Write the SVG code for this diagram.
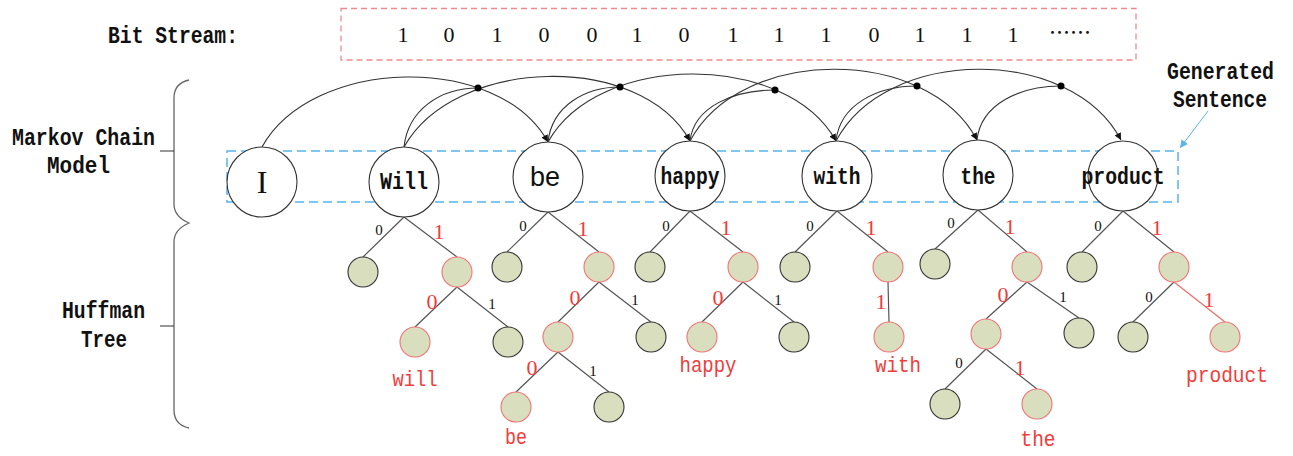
<svg xmlns="http://www.w3.org/2000/svg" width="1293" height="456" viewBox="0 0 1293 456">
<style>
.mono{font-family:"Liberation Mono","DejaVu Sans Mono",monospace;fill:#111;font-size:23px;font-weight:bold}
.lbl{font-family:"Liberation Mono","DejaVu Sans Mono",monospace;font-size:23px;font-weight:bold;fill:#111;text-anchor:middle}
.word{font-family:"Liberation Mono","DejaVu Sans Mono",monospace;font-size:22px;fill:#f03c3c;text-anchor:middle}
.bit{font-family:"Liberation Serif","Times New Roman",serif;font-size:22px;fill:#111;text-anchor:middle}
.b0{font-family:"Liberation Serif","Times New Roman",serif;font-size:15px;fill:#111;text-anchor:middle}
.r1{font-family:"Liberation Serif","Times New Roman",serif;font-size:22px;fill:#f03c3c;text-anchor:middle}
.mk{fill:#fff;stroke:#333;stroke-width:1.1}
.hn{fill:#d9dfbe;stroke:#333;stroke-width:1.1}
.hr{fill:#d9dfbe;stroke:#ef7474;stroke-width:1.1}
.e{stroke:#555;stroke-width:1.2;fill:none}
.er{stroke:#ef6a6a;stroke-width:1.2;fill:none}
.arc{stroke:#333;stroke-width:1.1;fill:none}
.dot{fill:#000}
</style>
<defs>
<marker id="ah" viewBox="0 0 10 10" refX="10" refY="5" markerWidth="7" markerHeight="7" markerUnits="userSpaceOnUse" orient="auto">
<path d="M0,0 L10,5 L0,10 Z" fill="#111"/>
</marker>
<marker id="ahb" viewBox="0 0 10 10" refX="10" refY="5" markerWidth="8" markerHeight="8" markerUnits="userSpaceOnUse" orient="auto">
<path d="M0,0 L10,5 L0,10 Z" fill="#5db5ea"/>
</marker>
</defs>
<rect width="1293" height="456" fill="#fff"/>

<g id="bitstream">
<text class="mono" x="108" y="43" textLength="130" lengthAdjust="spacingAndGlyphs">Bit Stream:</text>
<rect x="341" y="8.5" width="795" height="51.5" fill="none" stroke="#f08a8a" stroke-width="1.3" stroke-dasharray="6 4"/>
<text class="bit" y="42"><tspan x="403">1</tspan><tspan x="449">0</tspan><tspan x="497">1</tspan><tspan x="544">0</tspan><tspan x="592">0</tspan><tspan x="637">1</tspan><tspan x="684">0</tspan><tspan x="733">1</tspan><tspan x="779">1</tspan><tspan x="826">1</tspan><tspan x="874">0</tspan><tspan x="920">1</tspan><tspan x="967">1</tspan><tspan x="1013">1</tspan></text>
<text x="1049" y="40" font-family="'Noto Sans CJK SC',sans-serif" font-size="21" fill="#111">……</text>
</g>

<g id="side-labels">
<text class="mono" x="12" y="145" textLength="143" lengthAdjust="spacingAndGlyphs">Markov Chain</text>
<text class="mono" x="47" y="173" textLength="63" lengthAdjust="spacingAndGlyphs">Model</text>
<text class="mono" x="62" y="318" textLength="83" lengthAdjust="spacingAndGlyphs">Huffman</text>
<text class="mono" x="81" y="347" textLength="46" lengthAdjust="spacingAndGlyphs">Tree</text>
<path d="M189,80 C180,82 174,88 174,98 L174,204 C174,214 182,220 189,223 C182,226 174,232 174,242 L174,410 C174,420 180,426 189,428" fill="none" stroke="#666" stroke-width="1.3"/>
<path d="M160,151 L174,151 M160,326 L174,326" stroke="#333" stroke-width="1.2"/>
</g>

<g id="sentence-box">
<rect x="227" y="151" width="951" height="51" fill="none" stroke="#55b4ee" stroke-width="1.5" stroke-dasharray="9 5"/>
<text class="mono" x="1167" y="79" textLength="107" lengthAdjust="spacingAndGlyphs">Generated</text>
<text class="mono" x="1173" y="107" textLength="94" lengthAdjust="spacingAndGlyphs">Sentence</text>
<path d="M1208,111 L1180,148" stroke="#5db5ea" stroke-width="1" marker-end="url(#ahb)"/>
</g>

<g id="connectors">
<path class="arc" d="M262,147 C312,57 498,52 548,142" marker-end="url(#ah)"/>
<path class="arc" d="M404,147 C408,110 440,88 478,88"/>
<path class="arc" d="M404,147 C454,57 640,51 690,141" marker-end="url(#ah)"/>
<path class="arc" d="M548,142 C552,106 585,87 620,87"/>
<path class="arc" d="M548,142 C598,52 786,51 836,141" marker-end="url(#ah)"/>
<path class="arc" d="M690,141 C694,106 735,90 775,90"/>
<path class="arc" d="M690,141 C740,46 927,45 977,140" marker-end="url(#ah)"/>
<path class="arc" d="M836,141 C840,104 878,86 917,86"/>
<path class="arc" d="M836,141 C886,46 1071,45 1121,140" marker-end="url(#ah)"/>
<path class="arc" d="M977,140 C981,104 1020,86 1061,86"/>
<circle class="dot" cx="478" cy="88" r="3.5"/>
<circle class="dot" cx="620" cy="87" r="3.5"/>
<circle class="dot" cx="775" cy="90" r="3.5"/>
<circle class="dot" cx="917" cy="86" r="3.5"/>
<circle class="dot" cx="1061" cy="86" r="3.5"/>
<path class="e" d="M404,217 L363,257 M404,217 L457,257 M457,287 L415,327 M457,287 L508,327"/>
<path class="e" d="M548,212 L507,252 M548,212 L599,252 M599,282 L558,322 M599,282 L651,322 M558,352 L516,392 M558,352 L609,392"/>
<path class="e" d="M690,211 L650,252 M690,211 L743,252 M743,282 L702,322 M743,282 L794,322"/>
<path class="e" d="M837,211 L795,252 M837,211 L888,252 M888,282 L889,322"/>
<path class="e" d="M978,210 L935,249 M978,210 L1027,252 M1027,282 L986,319 M1027,282 L1079,318 M986,349 L945,389 M986,349 L1037,389"/>
<path class="e" d="M1123,211 L1082,252 M1123,211 L1174,252 M1174,282 L1133,322"/>
<path class="er" d="M1174,282 L1225,322"/>
</g>

<g id="node-I"><circle class="mk" cx="262" cy="182" r="35"/><text x="262" y="193" font-family="'Liberation Serif',serif" font-size="32" fill="#111" text-anchor="middle">I</text></g>
<g id="node-Will"><circle class="mk" cx="404" cy="182" r="35"/><text class="lbl" x="404" y="189" textLength="48" lengthAdjust="spacingAndGlyphs">Will</text></g>
<g id="node-be"><circle class="mk" cx="548" cy="177" r="35"/><text x="545" y="186" font-family="'Liberation Sans',sans-serif" font-size="27" fill="#111" text-anchor="middle">be</text></g>
<g id="node-happy"><circle class="mk" cx="690" cy="176" r="35"/><text class="lbl" x="690" y="184" textLength="59" lengthAdjust="spacingAndGlyphs">happy</text></g>
<g id="node-with"><circle class="mk" cx="837" cy="176" r="35"/><text class="lbl" x="837" y="184" textLength="47" lengthAdjust="spacingAndGlyphs">with</text></g>
<g id="node-the"><circle class="mk" cx="978" cy="175" r="35"/><text class="lbl" x="978" y="184" textLength="35" lengthAdjust="spacingAndGlyphs">the</text></g>
<g id="node-product"><circle class="mk" cx="1123" cy="176" r="35"/><text class="lbl" x="1123" y="184" textLength="83" lengthAdjust="spacingAndGlyphs">product</text></g>

<g id="tree-will">
<circle class="hn" cx="363" cy="272" r="15"/><circle class="hr" cx="457" cy="272" r="15"/>
<circle class="hr" cx="415" cy="342" r="15"/><circle class="hn" cx="508" cy="342" r="15"/>
<text class="b0" x="379" y="235">0</text><text class="r1" x="439" y="239">1</text>
<text class="r1" x="432" y="309">0</text><text class="b0" x="492" y="309">1</text>
<text class="word" x="415" y="386" textLength="45" lengthAdjust="spacingAndGlyphs">will</text>
</g>
<g id="tree-be">
<circle class="hn" cx="507" cy="267" r="15"/><circle class="hr" cx="599" cy="267" r="15"/>
<circle class="hr" cx="558" cy="337" r="15"/><circle class="hn" cx="651" cy="337" r="15"/>
<circle class="hr" cx="516" cy="407" r="15"/><circle class="hn" cx="609" cy="407" r="15"/>
<text class="b0" x="523" y="231">0</text><text class="r1" x="583" y="236">1</text>
<text class="r1" x="575" y="305">0</text><text class="b0" x="635" y="305">1</text>
<text class="r1" x="532" y="375">0</text><text class="b0" x="593" y="376">1</text>
<text class="word" x="516" y="444" textLength="22" lengthAdjust="spacingAndGlyphs">be</text>
</g>
<g id="tree-happy">
<circle class="hn" cx="650" cy="267" r="15"/><circle class="hr" cx="743" cy="267" r="15"/>
<circle class="hr" cx="702" cy="337" r="15"/><circle class="hn" cx="794" cy="337" r="15"/>
<text class="b0" x="666" y="231">0</text><text class="r1" x="726" y="235">1</text>
<text class="r1" x="718" y="305">0</text><text class="b0" x="778" y="305">1</text>
<text class="word" x="708" y="372" textLength="57" lengthAdjust="spacingAndGlyphs">happy</text>
</g>
<g id="tree-with">
<circle class="hn" cx="795" cy="267" r="15"/><circle class="hr" cx="888" cy="267" r="15"/>
<circle class="hr" cx="889" cy="337" r="15"/>
<text class="b0" x="810" y="231">0</text><text class="r1" x="871" y="235">1</text>
<text class="r1" x="881" y="309">1</text>
<text class="word" x="898" y="372" textLength="46" lengthAdjust="spacingAndGlyphs">with</text>
</g>
<g id="tree-the">
<circle class="hn" cx="935" cy="264" r="15"/><circle class="hr" cx="1027" cy="267" r="15"/>
<circle class="hr" cx="986" cy="334" r="15"/><circle class="hn" cx="1079" cy="333" r="15"/>
<circle class="hn" cx="945" cy="404" r="15"/><circle class="hr" cx="1037" cy="404" r="15"/>
<text class="b0" x="951" y="228">0</text><text class="r1" x="1010" y="234">1</text>
<text class="r1" x="1003" y="302">0</text><text class="b0" x="1063" y="302">1</text>
<text class="b0" x="959" y="368">0</text><text class="r1" x="1020" y="375">1</text>
<text class="word" x="1038" y="446" textLength="35" lengthAdjust="spacingAndGlyphs">the</text>
</g>
<g id="tree-product">
<circle class="hn" cx="1082" cy="267" r="15"/><circle class="hr" cx="1174" cy="267" r="15"/>
<circle class="hn" cx="1133" cy="337" r="15"/><circle class="hr" cx="1225" cy="337" r="15"/>
<text class="b0" x="1098" y="231">0</text><text class="r1" x="1157" y="235">1</text>
<text class="b0" x="1149" y="302">0</text><text class="r1" x="1209" y="307">1</text>
<text class="word" x="1227" y="382" textLength="82" lengthAdjust="spacingAndGlyphs">product</text>
</g>
</svg>
